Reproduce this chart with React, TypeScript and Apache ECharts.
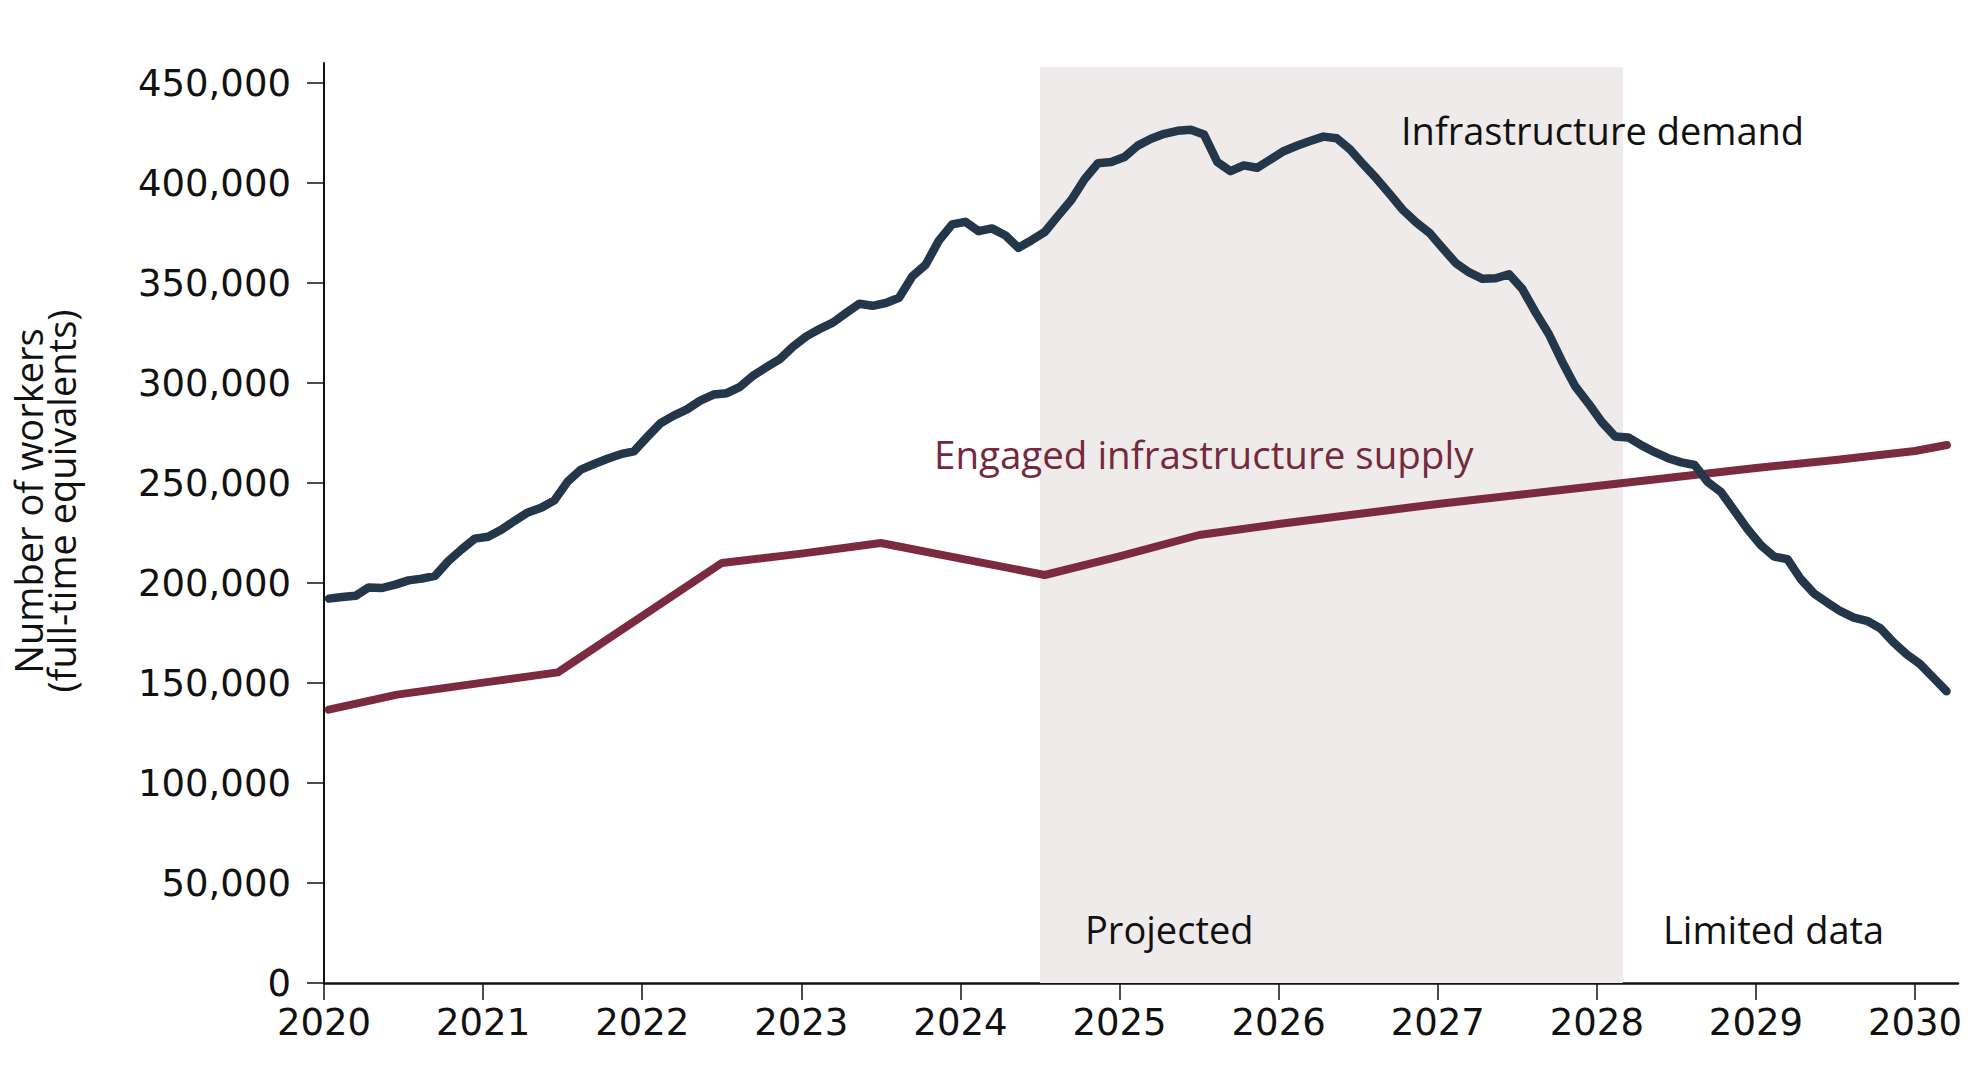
import React, { useEffect, useRef } from "react";
import * as echarts from "echarts";

// Infrastructure demand, monthly (number of workers, FTE), Jan 2020 – Mar 2030
const demand: number[] = [
  192200, 193000, 193600, 197800, 197500, 199200, 201300, 202200, 203600, 210900,
  216800, 222200, 223100, 226600, 231100, 235300, 237600, 241300, 250700, 256700,
  259500, 262100, 264400, 265800, 273000, 279900, 283700, 286800, 291200, 294200,
  294900, 298100, 303700, 307900, 311900, 318200, 323300, 327000, 330200, 335000,
  339600, 338600, 340000, 342600, 353400, 359100, 371200, 379300, 380600, 375900,
  377300, 373900, 367600, 371400, 375600, 383700, 391600, 402000, 409900, 410500,
  413000, 418700, 422100, 424600, 426100, 426600, 424200, 410500, 405900, 408800,
  407600, 411700, 415900, 418600, 421000, 423200, 422400, 416900, 409400, 402300,
  394500, 386500, 380300, 375100, 367400, 359900, 355300, 352100, 352400, 354400,
  347100, 335300, 324500, 310800, 298300, 289700, 280500, 273300, 272800, 268800,
  265400, 262400, 260300, 259000, 250400, 245400, 236100, 226900, 218900, 213200,
  211900, 202000, 194800, 190200, 185900, 182700, 181100, 177400, 170300, 164300,
  159500, 152700, 145900,
];
// month positions (fractional year)
const demandDates: number[] = demand.map((_, i) => 2020 + (i + 0.375) / 12);

// Engaged infrastructure supply
const supplyDates: number[] = [
  2020.03, 2020.46, 2021.0, 2021.47, 2022.5, 2023.0, 2023.5, 2024.53, 2025.0, 2025.5,
  2026.0, 2026.5, 2027.0, 2027.5, 2028.0, 2028.5, 2029.0, 2029.5, 2030.0, 2030.2,
];
const supply: number[] = [
  136700, 144200, 150200, 155300, 210000, 214700, 220000, 204000, 213300, 224000,
  229500, 234500, 239500, 244000, 248500, 253000, 257500, 261500, 266000, 269000,
];

const yearTicks: number[] = [2020, 2021, 2022, 2023, 2024, 2025, 2026, 2027, 2028, 2029, 2030];
const yTicks: number[] = [0, 50000, 100000, 150000, 200000, 250000, 300000, 350000, 400000, 450000];
const projectedRange: [number, number] = [2024.5, 2028.164];

const DEMAND_COLOR = "#24374a";
const SUPPLY_COLOR = "#7b2a3f";
const SHADE_COLOR = "#efebea";
const TICK_FONT = "DejaVu Sans";
const TEXT_FONT = "Open Sans";

export default function App() {
  const ref = useRef<HTMLDivElement>(null);

  useEffect(() => {
    document.body.style.margin = "0";
    if (!ref.current) return;
    const chart = echarts.init(ref.current, undefined, { renderer: "svg" });

    const option: any = {
      animation: false,
      backgroundColor: "#ffffff",
      grid: { left: 324, right: 27, top: 63, bottom: 99, containLabel: false },
      xAxis: {
        type: "value",
        min: 2020,
        max: 2030.27,
        axisLine: { show: true, onZero: false, lineStyle: { color: "#111", width: 2.5 } },
        axisTick: { show: true, customValues: yearTicks, length: 17, lineStyle: { color: "#111", width: 1.5 } },
        axisLabel: {
          customValues: yearTicks,
          formatter: (v: number) => String(Math.round(v)),
          color: "#111",
          fontFamily: TICK_FONT,
          fontSize: 37,
          lineHeight: 38,
          margin: 20,
        },
        splitLine: { show: false },
      },
      yAxis: {
        type: "value",
        min: 0,
        max: 460000,
        interval: 50000,
        axisLine: { show: true, lineStyle: { color: "#111", width: 2 } },
        axisTick: { show: true, customValues: yTicks, length: 17, lineStyle: { color: "#111", width: 1.5 } },
        axisLabel: {
          customValues: yTicks,
          formatter: (v: number) => v.toLocaleString("en-US"),
          color: "#111",
          fontFamily: TICK_FONT,
          fontSize: 37,
          lineHeight: 30,
          margin: 33,
        },
        splitLine: { show: false },
      },
      series: [
        {
          type: "line",
          name: "shade",
          data: [],
          silent: true,
          z: 1,
          markArea: {
            silent: true,
            itemStyle: { color: SHADE_COLOR },
            data: [[{ xAxis: projectedRange[0], yAxis: 0 }, { xAxis: projectedRange[1], yAxis: 458000 }]],
          },
        },
        {
          type: "line",
          name: "Engaged infrastructure supply",
          data: supplyDates.map((t, i) => [t, supply[i]]),
          showSymbol: false,
          z: 3,
          lineStyle: { color: SUPPLY_COLOR, width: 8, cap: "round", join: "round" },
        },
        {
          type: "line",
          name: "Infrastructure demand",
          data: demandDates.map((t, i) => [t, demand[i]]),
          showSymbol: false,
          z: 4,
          lineStyle: { color: DEMAND_COLOR, width: 8.5, cap: "round", join: "round" },
        },
      ],
      graphic: [
        {
          type: "text",
          x: 44,
          y: 501,
          z: 100,
          rotation: Math.PI / 2,
          style: {
            text: "Number of workers\n(full-time equivalents)",
            fontFamily: TEXT_FONT,
            fontSize: 38,
            lineHeight: 33,
            fill: "#111",
            align: "center",
            verticalAlign: "middle",
          },
        },
        {
          type: "text",
          x: 1401,
          y: 130,
          z: 100,
          style: { text: "Infrastructure demand", fontFamily: TEXT_FONT, fontSize: 38, fill: "#111", align: "left", verticalAlign: "middle" },
        },
        {
          type: "text",
          x: 934,
          y: 454,
          z: 100,
          style: { text: "Engaged infrastructure supply", fontFamily: TEXT_FONT, fontSize: 38.5, fill: "#74293d", align: "left", verticalAlign: "middle" },
        },
        {
          type: "text",
          x: 1085,
          y: 929,
          z: 100,
          style: { text: "Projected", fontFamily: TEXT_FONT, fontSize: 38, fill: "#111", align: "left", verticalAlign: "middle" },
        },
        {
          type: "text",
          x: 1663,
          y: 929,
          z: 100,
          style: { text: "Limited data", fontFamily: TEXT_FONT, fontSize: 38, fill: "#111", align: "left", verticalAlign: "middle" },
        },
      ],
    };

    chart.setOption(option);
    return () => chart.dispose();
  }, []);

  return <div ref={ref} style={{ width: 1985, height: 1082 }} />;
}
